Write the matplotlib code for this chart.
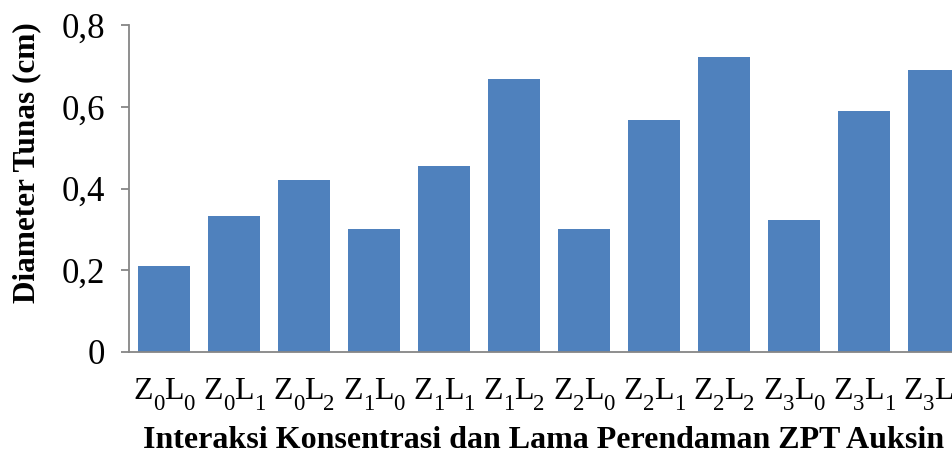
"""Diameter tunas per kombinasi ZPT auksin: bar chart, Excel-like style."""

import matplotlib

matplotlib.use("Agg")
import matplotlib.pyplot as plt  # noqa: E402
from matplotlib.ticker import FuncFormatter  # noqa: E402
from matplotlib.transforms import IdentityTransform  # noqa: E402

plt.rcParams["font.family"] = ["Liberation Serif", "DejaVu Serif"]

# data
kombinasi = [
    ("0", "0"), ("0", "1"), ("0", "2"),
    ("1", "0"), ("1", "1"), ("1", "2"),
    ("2", "0"), ("2", "1"), ("2", "2"),
    ("3", "0"), ("3", "1"), ("3", "2"),
]
diameter = [0.21, 0.333, 0.422, 0.30, 0.455, 0.667, 0.30, 0.567, 0.722, 0.322, 0.590, 0.689]
yticks = [0, 0.2, 0.4, 0.6, 0.8]

xs = list(range(len(diameter)))

fig = plt.figure(figsize=(9.52, 4.54), dpi=100)
# plot area deliberately runs past the right edge (source image is cropped)
ax = fig.add_axes([129 / 952, 102 / 454, 840 / 952, 327 / 454])
ax.bar(xs, diameter, width=0.75, color="#4F81BD", zorder=2)

ax.set_xlim(-0.5, len(xs) - 0.5)
ax.set_ylim(0, 0.8)
ax.set_yticks(yticks)
ax.yaxis.set_major_formatter(FuncFormatter(lambda v, _: "0" if v == 0 else f"{v:.1f}".replace(".", ",")))
ax.set_xticks(xs)
ax.set_xticklabels([])

for side in ("top", "right"):
    ax.spines[side].set_visible(False)
for side in ("left", "bottom"):
    ax.spines[side].set_color("#868686")
    ax.spines[side].set_linewidth(1.3)
ax.tick_params(axis="y", length=6, width=1.3, color="#868686", labelsize=25, pad=11)
ax.tick_params(axis="x", length=0)

# category labels Z_iL_j built piece by piece so the subscripts sit low like the source
renderer = fig.canvas.get_renderer()
MAIN, SUB, DROP = 23, 16.5, 11  # pt, pt, px
BASE_Y = 454 - 399  # baseline in display px


def text_w(s, size):
    t = fig.text(0, 0, s, fontsize=size)
    w = t.get_window_extent(renderer).width
    t.remove()
    return w


for x, (z, l) in zip(xs, kombinasi):
    pieces = [("Z", MAIN, 0), (z, SUB, -DROP), ("L", MAIN, 0), (l, SUB, -DROP)]
    widths = [text_w(s, size) for s, size, _ in pieces]
    cx = ax.transData.transform((x, 0))[0]
    px = cx - sum(widths) / 2
    for (s, size, dy), w in zip(pieces, widths):
        fig.text(px, BASE_Y + dy, s, fontsize=size, va="baseline", ha="left",
                 transform=IdentityTransform())
        px += w

fig.text(544 / 952, 1 - 441 / 454, "Interaksi Konsentrasi dan Lama Perendaman ZPT Auksin",
         ha="center", va="center", fontsize=23, fontweight="bold")
fig.text(27 / 952, 1 - 163 / 454, "Diameter Tunas (cm)", rotation=90,
         ha="center", va="center", fontsize=22.5, fontweight="bold")

fig.savefig("out.png", dpi=100)
